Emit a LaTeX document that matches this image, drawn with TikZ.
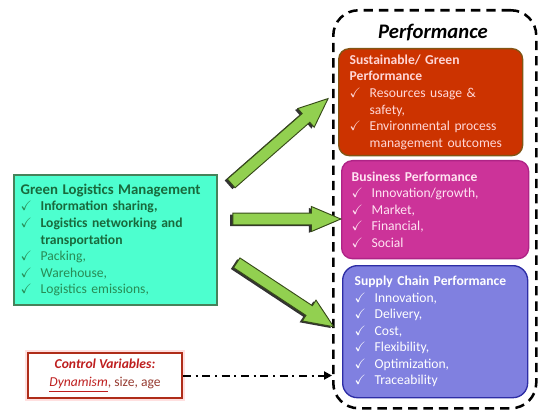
\documentclass[tikz,border=0pt]{standalone}
\usepackage{fontspec}
\setmainfont{Carlito}
\usepackage{amssymb}
\usepackage{xcolor}
\usetikzlibrary{arrows.meta, positioning, shapes.arrows, calc, shadows}

\definecolor{boxGreen}{RGB}{77,255,207}
\definecolor{edgeGreen}{RGB}{70,130,90}
\definecolor{textGreen}{RGB}{25,105,60}
\definecolor{itemGreen}{RGB}{40,140,85}
\definecolor{boxRed}{RGB}{204,51,0}
\definecolor{edgeRed}{RGB}{130,85,20}
\definecolor{textRed}{RGB}{255,215,215}
\definecolor{boxMag}{RGB}{204,51,153}
\definecolor{edgeMag}{RGB}{175,35,135}
\definecolor{textMag}{RGB}{255,228,242}
\definecolor{boxBlue}{RGB}{128,128,224}
\definecolor{edgeBlue}{RGB}{45,45,165}
\definecolor{arrGreen}{RGB}{146,208,80}
\definecolor{arrEdge}{RGB}{55,75,25}
\definecolor{ctrlRed}{RGB}{175,45,25}
\definecolor{ctrlText}{RGB}{190,30,30}
\definecolor{ctrlSoft}{RGB}{150,60,50}

\newcommand{\ck}[1]{\par\noindent\hangindent=15pt\hangafter=1\makebox[15pt][l]{$\checkmark$}#1}

\begin{document}
\begin{tikzpicture}[x=0.75pt, y=0.75pt,
          perfbox/.style={rectangle, rounded corners=8pt, line width=1pt, anchor=north west,
                          align=left, inner ysep=0pt,
                          font=\fontsize{10.2}{12.4}\selectfont},
          frame/.style={rectangle, rounded corners=19pt, draw=black, line width=1.9pt,
                        dash pattern=on 7pt off 4.5pt, anchor=north west,
                        minimum width=152.25pt, minimum height=298.5pt},
          fatarr/.style={single arrow, draw=arrEdge, fill=arrGreen, line width=0.7pt,
                         inner sep=4pt, minimum width=0pt,
                         single arrow head extend=5pt, single arrow tip angle=46,
                         drop shadow={shadow xshift=-2pt, shadow yshift=-1pt,
                                      fill=black!80, opacity=1}},
          ctrlarr/.style={line width=1.5pt, dash pattern=on 6pt off 3.5pt on 1.5pt off 3.5pt,
                          -{Triangle[length=6pt, width=6pt]}}]
          \useasboundingbox (0,0) rectangle (550,-417);
          % performance frame
          \node[frame] (perf) at (332,-9) {};
          \node[font=\fontsize{15.5}{18}\selectfont\bfseries\itshape] (perfTitle) at (433,-33) {Performance};
          \node[perfbox, fill=boxRed, draw=edgeRed, text=textRed, inner xsep=8.25pt,
                text width=121.5pt, minimum height=80.25pt] (green) at (338,-48)
                {\textbf{Sustainable/ Green}\newline\textbf{Performance}%
                 \ck{Resources usage \&\newline safety,}%
                 \ck{Environmental process\newline management outcomes}\par};
          \node[perfbox, fill=boxMag, draw=edgeMag, text=textMag, inner xsep=7.5pt,
                text width=125.25pt, minimum height=73.5pt] (business) at (341,-160)
                {\textbf{Business Performance}%
                 \ck{Innovation/growth,}\ck{Market,}\ck{Financial,}\ck{Social}\par};
          \node[perfbox, fill=boxBlue, draw=edgeBlue, text=white, inner xsep=9pt,
                rounded corners=11pt, text width=120.75pt, minimum height=99pt] (supply) at (342,-265)
                {\textbf{Supply Chain Performance}%
                 \ck{Innovation,}\ck{Delivery,}\ck{Cost,}\ck{Flexibility,}%
                 \ck{Optimization,}\ck{Traceability}\par};
          % green logistics management
          \node[perfbox, rounded corners=0pt, fill=boxGreen, draw=edgeGreen, line width=1.5pt,
                text=itemGreen, inner xsep=5pt, text width=142pt, minimum height=97.5pt] (glm) at (13,-174)
                {\mbox{\color{textGreen}\fontsize{11.1}{12.4}\selectfont\bfseries Green Logistics Management}%
                 \ck{{\color{textGreen}\textbf{Information sharing,}}}%
                 \ck{{\color{textGreen}\textbf{Logistics networking and}\newline\textbf{transportation}}}%
                 \ck{Packing,}\ck{Warehouse,}\ck{Logistics emissions,}\par};
          % control variables
          \node[rectangle, draw=ctrlRed, line width=1.5pt, fill=white, anchor=north west,
                preaction={draw=red!12, line width=4.5pt},
                minimum width=115.5pt, minimum height=33.75pt, align=center,
                font=\fontsize{10.2}{13.5}\selectfont, text=ctrlText] (ctrl) at (27,-352)
                {\textbf{\textit{Control Variables:}}\\
                 \textit{\underline{Dynamism}}{\color{ctrlSoft}, size, age}};
          % block arrows
          \coordinate (upT) at (226,-188);  \coordinate (upH) at (323,-103);
          \coordinate (midT) at (226,-219); \coordinate (midH) at (334,-219);
          \coordinate (dnT) at (231,-259);  \coordinate (dnH) at (328,-323);
          \foreach \tl/\hd/\nm in {upT/upH/arrUp, midT/midH/arrMid, dnT/dnH/arrDn}
            \path let \p1=($(\hd)-(\tl)$), \n1={atan2(\y1,\x1)}, \n2={veclen(\x1,\y1)} in
              node[fatarr, rotate=\n1, minimum height=\n2] (\nm) at ($(\tl)!0.5!(\hd)$) {};
          \draw[ctrlarr] (ctrl.east) -- (ctrl.east -| perf.west);
        \end{tikzpicture}
\end{document}
